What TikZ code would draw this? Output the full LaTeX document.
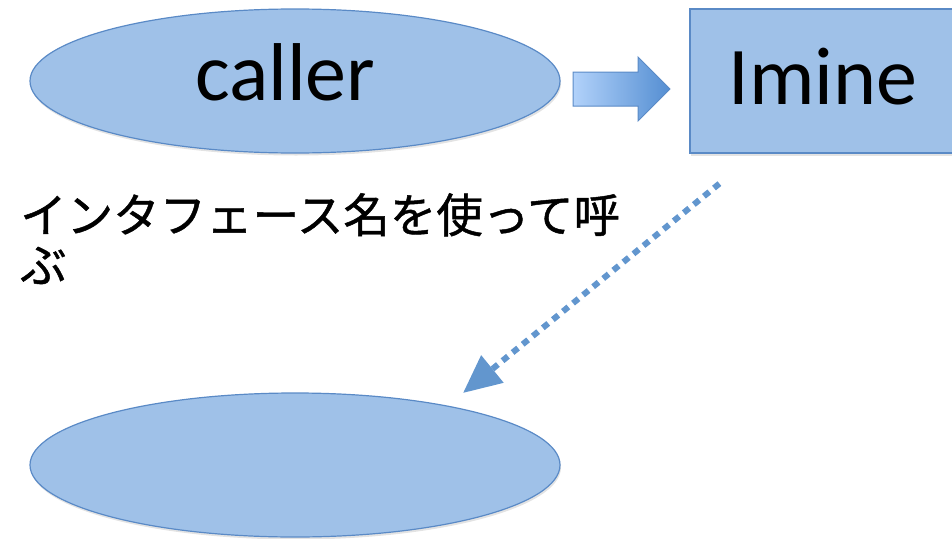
\documentclass[tikz,border=0pt]{standalone}
\usepackage{fontspec}
\setmainfont{Carlito}
\newfontfamily\jpfont[FakeBold=1]{Noto Sans CJK JP}
\usetikzlibrary{shapes.geometric,arrows.meta,shadows}
\definecolor{boxfill}{RGB}{159,193,232}
\definecolor{boxline}{RGB}{90,138,198}
\definecolor{dotline}{RGB}{98,150,206}
\definecolor{arrowlight}{RGB}{178,210,250}
\definecolor{arrowdark}{RGB}{84,142,210}

\begin{document}
\begin{tikzpicture}[
    x=1pt, y=-1pt,
    shapebase/.style={fill=boxfill, draw=boxline, line width=1.2pt, inner sep=0pt,
      drop shadow={opacity=0.22, shadow xshift=1pt, shadow yshift=-2.5pt}},
    oval/.style={shapebase, ellipse, minimum width=530pt, minimum height=144pt},
    box/.style={shapebase, rectangle, minimum width=266pt, minimum height=144pt},
    big/.style={font=\fontsize{82}{90}\selectfont}
  ]
    \useasboundingbox (0,0) rectangle (952,538);
    \node[oval, big, text width=200pt, align=left, text depth=18pt] (caller) at (295,81) {caller};
    \node[box, big, text depth=10pt] (imine) at (823,81) {Imine};
    \node[oval] (impl) at (295,465) {};
    \node[anchor=north west, align=left, inner sep=0pt,
      font=\jpfont\fontsize{46.5}{50}\selectfont] (note) at (20,193)
      {インタフェース名を使って呼\\ぶ};

    % block arrow between caller and Imine
    \shade[left color=arrowlight, right color=arrowdark, draw=boxline, line width=1pt]
      (573,72) -- (638,72) -- (638,57) -- (670,89) -- (638,121) -- (638,106) -- (573,106) -- cycle;

    \coordinate (src) at ([xshift=30pt,yshift=-30pt]imine.south west);
    \coordinate (dst) at (463,393);
    \draw[dotline, line width=6pt, dash pattern=on 7pt off 6pt,
      -{Triangle[length=38pt,width=34pt]}] (src) -- (dst);
  \end{tikzpicture}
\end{document}
